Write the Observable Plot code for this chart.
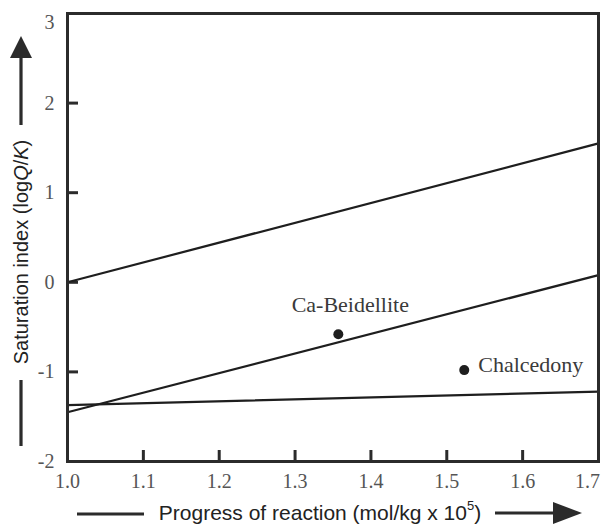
<!DOCTYPE html>
<html><head><meta charset="utf-8">
<script src="https://cdn.jsdelivr.net/npm/d3@7"></script>
<script src="https://cdn.jsdelivr.net/npm/@observablehq/plot@0.6"></script>
<style>body{margin:0;background:#fff;} #chart{width:604px;height:526px;}</style>
</head><body><div id="chart"></div>
<script>
// Data
const progress = [1.0, 1.7];
const upperLine = [0.0, 1.55];
const beidelliteLine = [-1.45, 0.08];
const chalcedonyLine = [-1.37, -1.22];
const pointNames = ["Ca-Beidellite", "Chalcedony"];
const pointX = [1.357, 1.523];
const pointY = [-0.58, -0.98];
const xTickLabels = [1.0, 1.1, 1.2, 1.3, 1.4, 1.5, 1.6];
const xLastLabel = [1.7];
const yTickLabels = [2, 1, 0, -1, -2];
const yTopLabel = [3];
const xInnerTicks = [1.1, 1.2, 1.3, 1.4, 1.5, 1.6];
const yInnerTicks = [2, 1, 0, -1];

const seriesList = [["upper", upperLine], ["beidellite", beidelliteLine], ["chalcedony", chalcedonyLine]];
const lineData = seriesList.flatMap(([name, vals]) => vals.map((v, i) => ({series: name, x: progress[i], y: v})));
const points = pointNames.map((n, i) => ({name: n, x: pointX[i], y: pointY[i]}));

const ink = "#2b2b2b";
const tickInk = "#555";
const yFmt = d => (d < 0 ? "-" : "") + Math.abs(d);

const chart = Plot.plot({
  width: 604, height: 526,
  marginLeft: 67, marginRight: 6, marginTop: 13, marginBottom: 65,
  style: {fontFamily: "'Liberation Serif', 'Times New Roman', serif", background: "#fff"},
  x: {domain: [1.0, 1.7]},
  y: {domain: [-2, 3]},
  marks: [
    Plot.axisX(xInnerTicks, {tickSize: -11, tickFormat: () => "", stroke: ink, strokeWidth: 3, label: null}),
    Plot.axisY(yInnerTicks, {tickSize: -11, tickFormat: () => "", stroke: ink, strokeWidth: 3, label: null}),
    Plot.axisX(xTickLabels, {tickSize: 0, tickPadding: 12, fontSize: 20, fill: tickInk, tickFormat: d3.format(".1f"), label: null}),
    Plot.axisX(xLastLabel, {tickSize: 0, tickPadding: 12, fontSize: 20, fill: tickInk, tickFormat: d3.format(".1f"), dx: -11, label: null}),
    Plot.axisY(yTickLabels, {tickSize: 0, tickPadding: 13, fontSize: 20, fill: tickInk, tickFormat: yFmt, label: null}),
    Plot.axisY(yTopLabel, {tickSize: 0, tickPadding: 13, fontSize: 20, fill: tickInk, tickFormat: yFmt, dy: 9, label: null}),
    Plot.line(lineData, {x: "x", y: "y", z: "series", stroke: "#1e1e1e", strokeWidth: 2.2}),
    Plot.dot(points, {x: "x", y: "y", r: 5, fill: "#1e1e1e", stroke: null}),
    Plot.text(points.slice(0, 1), {x: "x", y: "y", text: "name", dx: 12, dy: -29, fontSize: 22, fill: "#3a3a3a", textAnchor: "middle"}),
    Plot.text(points.slice(1), {x: "x", y: "y", text: "name", dx: 14, dy: -5, fontSize: 22, fill: "#3a3a3a", textAnchor: "start"}),
    Plot.frame({stroke: ink, strokeWidth: 3})
  ]
});
document.getElementById("chart").append(chart);

// Axis titles with arrow decorations
const svg = d3.select(chart);
const deco = svg.append("g").attr("fill", ink).attr("stroke", ink);
// y-axis title
const yt = svg.append("text")
  .attr("transform", "translate(21,252) rotate(-90)")
  .attr("text-anchor", "middle").attr("dominant-baseline", "central")
  .attr("font-family", "'Liberation Sans', Arial, sans-serif").attr("font-size", 20).attr("fill", "#222");
yt.append("tspan").text("Saturation index (log");
yt.append("tspan").attr("font-style", "italic").text("Q");
yt.append("tspan").text("/");
yt.append("tspan").attr("font-style", "italic").text("K");
yt.append("tspan").text(")");
deco.append("line").attr("x1", 21).attr("x2", 21).attr("y1", 125).attr("y2", 56).attr("stroke-width", 3.2);
deco.append("path").attr("d", "M21,36 L32,58 L10,58 Z").attr("stroke", "none");
deco.append("line").attr("x1", 21).attr("x2", 21).attr("y1", 380).attr("y2", 446).attr("stroke-width", 3.2);
// x-axis title
const xt = svg.append("text")
  .attr("x", 320).attr("y", 512)
  .attr("text-anchor", "middle").attr("dominant-baseline", "central")
  .attr("font-family", "'Liberation Sans', Arial, sans-serif").attr("font-size", 21).attr("fill", "#222");
xt.append("tspan").text("Progress of reaction (mol/kg x 10");
xt.append("tspan").attr("font-size", 13).attr("dy", -7).text("5");
xt.append("tspan").attr("dy", 7).text(")");
deco.append("line").attr("x1", 77).attr("x2", 144).attr("y1", 514).attr("y2", 514).attr("stroke-width", 3.2);
deco.append("line").attr("x1", 495).attr("x2", 556).attr("y1", 513).attr("y2", 513).attr("stroke-width", 3.2);
deco.append("path").attr("d", "M582,513 L553,502 L553,524 Z").attr("stroke", "none");
</script>
</body></html>
